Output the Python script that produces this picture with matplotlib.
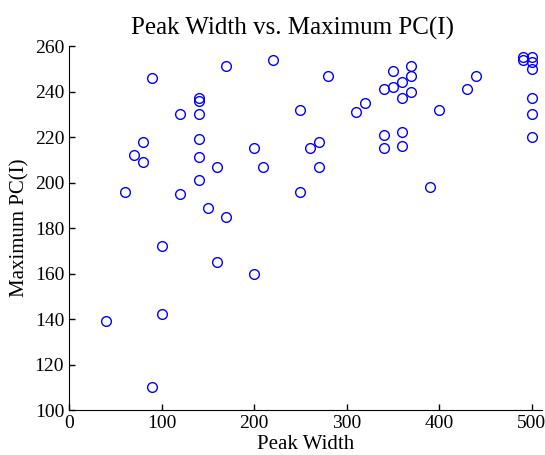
import matplotlib.pyplot as plt

# peak width vs maximum PC(I)
peak_width = [90, 170, 220, 140, 140, 120, 140, 250, 80, 140, 70, 80, 140, 160,
              200, 210, 260, 140, 60, 120, 250, 150, 170, 280, 270, 270, 310, 320,
              340, 350, 350, 360, 360, 370, 370, 370, 340, 340, 360, 360, 390, 400,
              430, 440, 490, 490, 500, 500, 500, 500, 500, 500,
              100, 160, 200, 40, 100, 90]
max_pc = [246, 251, 254, 237, 236, 230, 230, 232, 218, 219, 212, 209, 211, 207,
          215, 207, 215, 201, 196, 195, 196, 189, 185, 247, 218, 207, 231, 235,
          241, 249, 242, 244, 237, 251, 247, 240, 221, 215, 222, 216, 198, 232,
          241, 247, 255, 254, 255, 253, 250, 237, 230, 220,
          172, 165, 160, 139, 142, 110]

plt.rcParams['font.family'] = ['Liberation Serif', 'DejaVu Serif']

fig = plt.figure(figsize=(5.45, 4.55), dpi=100)
ax = fig.add_axes([0.1266, 0.0989, 0.8679, 0.80])

ax.plot(peak_width, max_pc, 'o', markerfacecolor='none', markeredgecolor='#0000ff',
        markersize=7, markeredgewidth=1.0, clip_on=False)

ax.set_xlim(0, 511)
ax.set_ylim(100, 260)
ax.set_xticks(range(0, 501, 100))
ax.set_yticks(range(100, 261, 20))
ax.tick_params(direction='in', labelsize=14, length=4, width=1)
ax.spines['top'].set_visible(False)
ax.spines['right'].set_visible(False)

ax.set_xlabel('Peak Width', fontsize=15, labelpad=2)
ax.set_ylabel('Maximum PC(I)', fontsize=15, labelpad=4)
ax.set_title('Peak Width vs. Maximum PC(I)', fontsize=18, pad=8, x=0.472)

fig.savefig('out.png', dpi=100)
